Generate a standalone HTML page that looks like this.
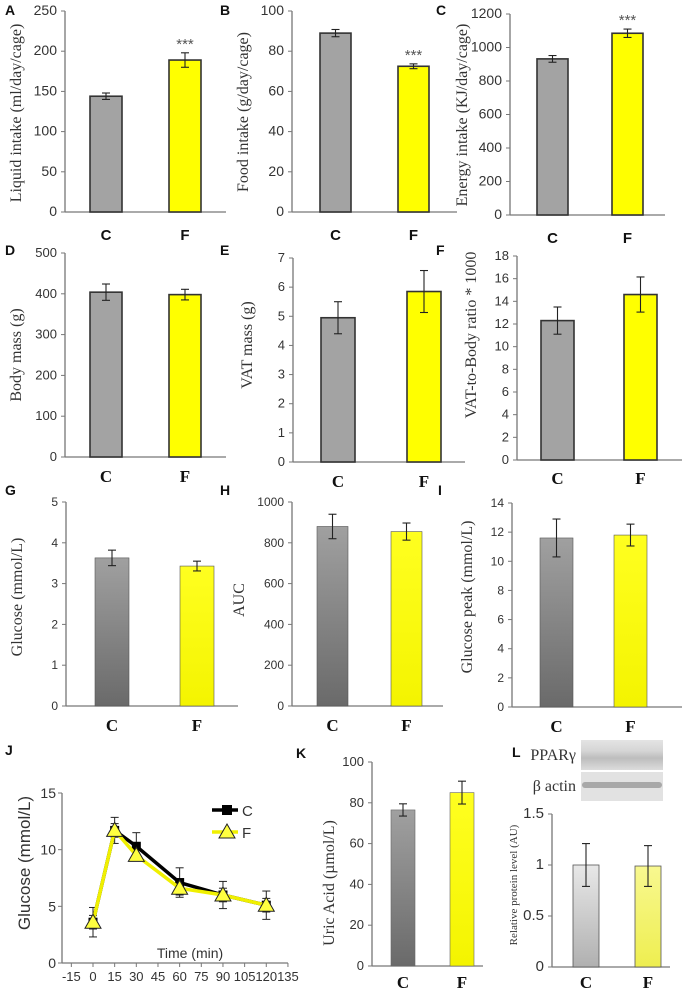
<!DOCTYPE html>
<html><head><meta charset="utf-8"><style>
html,body{margin:0;padding:0;background:#fff;}
svg{display:block;}
.tk{font-family:"Liberation Sans",sans-serif;fill:#333;}
.yt{font-family:"Liberation Serif",serif;fill:#333;}
.lt{font-family:"Liberation Sans",sans-serif;font-size:14px;font-weight:bold;fill:#111;}
.catS{font-family:"Liberation Sans",sans-serif;font-size:15px;font-weight:bold;fill:#111;}
.catR{font-family:"Liberation Serif",serif;font-size:17px;font-weight:bold;fill:#111;}
</style></head><body>
<svg id="fig" width="682" height="991" viewBox="0 0 682 991">
<defs>
<linearGradient id="gGray" x1="0" y1="1" x2="0" y2="0"><stop offset="0" stop-color="#6a6a6a"/><stop offset="1" stop-color="#a0a0a0"/></linearGradient>
<linearGradient id="gYel" x1="0" y1="1" x2="0" y2="0"><stop offset="0" stop-color="#f4f400"/><stop offset="1" stop-color="#ffff20"/></linearGradient>
<linearGradient id="gLight" x1="0" y1="1" x2="0" y2="0"><stop offset="0" stop-color="#b0b0b0"/><stop offset="1" stop-color="#e8e8e8"/></linearGradient>
<linearGradient id="gPaleY" x1="0" y1="1" x2="0" y2="0"><stop offset="0" stop-color="#eeee50"/><stop offset="1" stop-color="#f8f890"/></linearGradient>
<linearGradient id="blot" x1="0" y1="0" x2="0" y2="1"><stop offset="0" stop-color="#e4e4e4"/><stop offset="0.35" stop-color="#d6d6d6"/><stop offset="0.6" stop-color="#bdbdbd"/><stop offset="1" stop-color="#dcdcdc"/></linearGradient>
</defs>
</svg>
<script>
// ---- data ----
const categories = ["C","F"];
const liquidMeans = [144, 189];   const liquidErr = [4, 9];
const foodMeans = [89, 72.5];     const foodErr = [1.8, 1.2];
const energyMeans = [932, 1085];  const energyErr = [20, 25];
const bodyMeans = [404, 398];     const bodyErr = [20, 13];
const vatMeans = [4.95, 5.85];    const vatErr = [0.55, 0.72];
const ratioMeans = [12.3, 14.6];  const ratioErr = [1.2, 1.55];
const glucoseMeans = [3.63, 3.43];const glucoseErr = [0.19, 0.12];
const aucMeans = [880, 855];      const aucErr = [60, 42];
const peakMeans = [11.6, 11.8];   const peakErr = [1.3, 0.75];
const uricMeans = [76.5, 85];     const uricErr = [3, 5.6];
const pparMeans = [1.0, 0.99];    const pparErr = [0.21, 0.2];
const starsA = ["", "***"]; const starsB = ["", "***"]; const starsC = ["", "***"];
const ticksA = [0,50,100,150,200,250];
const ticksB = [0,20,40,60,80,100];
const ticksC = [0,200,400,600,800,1000,1200];
const ticksD = [0,100,200,300,400,500];
const ticksE = [0,1,2,3,4,5,6,7];
const ticksF = [0,2,4,6,8,10,12,14,16,18];
const ticksG = [0,1,2,3,4,5];
const ticksH = [0,200,400,600,800,1000];
const ticksI = [0,2,4,6,8,10,12,14];
const ticksK = [0,20,40,60,80,100];
const ticksL = [0,0.5,1,1.5];
const ticksLbl = ["0","0.5","1","1.5"];
// GTT
const times = [0,15,30,60,90,120];
const gttC = [3.6,11.7,10.3,7.1,6.0,5.1];
const gttCerr = [1.3,1.15,1.2,1.3,1.2,1.25];
const gttF = [3.6,11.7,9.5,6.6,6.0,5.1];
const gttFerr = [0.6,0.6,0.5,0.6,0.6,0.6];
const xTicksJ = [-15,0,15,30,45,60,75,90,105,120,135];
const yTicksJ = [0,5,10,15];

const NS="http://www.w3.org/2000/svg";
const svg=document.getElementById('fig');
function el(tag,attrs,parent,text){const e=document.createElementNS(NS,tag);for(const k in attrs)e.setAttribute(k,attrs[k]);if(text!==undefined)e.textContent=text;(parent||svg).appendChild(e);return e;}

function barPanel(p){
  const g=el('g',{});
  
  
  const y=v=>p.y0-(v-0)/(p.max)*(p.y0-p.yTop);
  const ax=el('line',{x1:p.ax,y1:p.yTop,x2:p.ax,y2:p.y0,stroke:'#777','stroke-width':1.3},g);
  
  
  const xa=el('line',{x1:p.ax,y1:p.y0,x2:p.xEnd,y2:p.y0,stroke:'#777','stroke-width':1.3},g);
  
  
  p.ticks.forEach((t,i)=>{
    el('line',{x1:p.ax-4,y1:y(t),x2:p.ax,y2:y(t),stroke:'#777','stroke-width':1},g);
    const tl=el('text',{x:p.ax-8,y:y(t)+4,'text-anchor':'end',class:'tk',style:'font-size:'+(p.tkSize||13)+'px'},g,p.tickLabels?p.tickLabels[i]:String(t));
    
    
  });
  p.means.forEach((m,i)=>{
    const bx=p.bx[i], bw=p.bw;
    const r=el('rect',{x:bx,y:y(m),width:bw,height:p.y0-y(m),fill:p.fills[i],stroke:p.stroke,'stroke-width':p.sw},g);
    
    
    const cx=bx+bw/2, e=p.err[i];
    el('line',{x1:cx,y1:y(m+e),x2:cx,y2:y(m-e),stroke:'#222','stroke-width':1.1},g);
    el('line',{x1:cx-4,y1:y(m+e),x2:cx+4,y2:y(m+e),stroke:'#222','stroke-width':1.1},g);
    el('line',{x1:cx-4,y1:y(m-e),x2:cx+4,y2:y(m-e),stroke:'#222','stroke-width':1.1},g);
    const cl=el('text',{x:cx,y:p.catY,'text-anchor':'middle',class:p.catCls},g,categories[i]);
    
    
    if(p.stars&&p.stars[i]){
      const s=el('text',{x:cx,y:y(m+e)-4,'text-anchor':'middle',class:'tk',style:'font-size:15px;fill:#555'},g,p.stars[i]);
      
      
    }
  });
  const yt=el('text',{x:0,y:0,'text-anchor':'middle',class:'yt',transform:`translate(${p.ytX},${p.ytY}) rotate(-90)`,style:'font-size:'+(p.ytSize||16)+'px'},g,p.title);
  
  
  const lt=el('text',{x:p.lx,y:p.ly,class:'lt'},g,p.letter);
  
  
}
const GY='#a3a3a3', YL='#ffff00', BS='#333';
barPanel({name:'panel-a',letter:'A',lx:5,ly:15,ax:65,xEnd:226,y0:212,yTop:11,max:250,ticks:ticksA,means:liquidMeans,err:liquidErr,bx:[90,169],bw:32,fills:[GY,YL],stroke:BS,sw:1.6,catY:240,catCls:'catS',stars:starsA,title:'Liquid intake (ml/day/cage)',ytX:21,ytY:113,tkSize:14});
barPanel({name:'panel-b',letter:'B',lx:220,ly:15,ax:292,xEnd:457,y0:212,yTop:11,max:100,ticks:ticksB,means:foodMeans,err:foodErr,bx:[320,398],bw:31,fills:[GY,YL],stroke:BS,sw:1.6,catY:240,catCls:'catS',stars:starsB,title:'Food intake (g/day/cage)',ytX:248,ytY:112,tkSize:14});
barPanel({name:'panel-c',letter:'C',lx:436,ly:15,ax:510,xEnd:665,y0:215,yTop:14,max:1200,ticks:ticksC,means:energyMeans,err:energyErr,bx:[537,612],bw:31,fills:[GY,YL],stroke:BS,sw:1.6,catY:243,catCls:'catS',stars:starsC,title:'Energy intake (KJ/day/cage)',ytX:467,ytY:115,tkSize:14});
barPanel({name:'panel-d',letter:'D',lx:5,ly:255,ax:65,xEnd:226,y0:457,yTop:253,max:500,ticks:ticksD,means:bodyMeans,err:bodyErr,bx:[90,169],bw:32,fills:[GY,YL],stroke:BS,sw:1.6,catY:482,catCls:'catR',title:'Body mass (g)',ytX:21,ytY:355});
barPanel({name:'panel-e',letter:'E',lx:220,ly:255,ax:293,xEnd:465,y0:462,yTop:258,max:7,ticks:ticksE,means:vatMeans,err:vatErr,bx:[321,407],bw:34,fills:[GY,YL],stroke:BS,sw:1.6,catY:487,catCls:'catR',title:'VAT mass (g)',ytX:252,ytY:345});
barPanel({name:'panel-f',letter:'F',lx:436,ly:255,ax:517,xEnd:682,y0:460,yTop:256,max:18,ticks:ticksF,means:ratioMeans,err:ratioErr,bx:[541,624],bw:33,fills:[GY,YL],stroke:BS,sw:1.6,catY:484,catCls:'catR',title:'VAT-to-Body ratio * 1000',ytX:476,ytY:335});
barPanel({name:'panel-g',letter:'G',lx:5,ly:495,ax:66,xEnd:238,y0:706,yTop:502,max:5,ticks:ticksG,means:glucoseMeans,err:glucoseErr,bx:[95,180],bw:34,fills:['url(#gGray)','url(#gYel)'],stroke:'#555',sw:0.6,catY:731,catCls:'catR',title:'Glucose (mmol/L)',ytX:22,ytY:597,tkSize:12});
barPanel({name:'panel-h',letter:'H',lx:220,ly:495,ax:292,xEnd:443,y0:706,yTop:502,max:1000,ticks:ticksH,means:aucMeans,err:aucErr,bx:[317,391],bw:31,fills:['url(#gGray)','url(#gYel)'],stroke:'#555',sw:0.6,catY:731,catCls:'catR',title:'AUC',ytX:244,ytY:600,tkSize:12});
barPanel({name:'panel-i',letter:'I',lx:438,ly:495,ax:512,xEnd:682,y0:707,yTop:503,max:14,ticks:ticksI,means:peakMeans,err:peakErr,bx:[540,614],bw:33,fills:['url(#gGray)','url(#gYel)'],stroke:'#555',sw:0.6,catY:732,catCls:'catR',title:'Glucose peak (mmol/L)',ytX:472,ytY:597,tkSize:12});
barPanel({name:'panel-k',letter:'K',lx:296,ly:758,ax:372,xEnd:483,y0:966,yTop:762,max:100,ticks:ticksK,means:uricMeans,err:uricErr,bx:[391,450],bw:24,fills:['url(#gGray)','url(#gYel)'],stroke:'#666',sw:0.6,catY:988,catCls:'catR',title:'Uric Acid (µmol/L)',ytX:334,ytY:883});
barPanel({name:'panel-l',letter:'L',lx:512,ly:757,ax:552,xEnd:670,y0:967,yTop:814,max:1.5,ticks:ticksL,tickLabels:ticksLbl,means:pparMeans,err:pparErr,bx:[573,635],bw:26,fills:['url(#gLight)','url(#gPaleY)'],stroke:'#555',sw:0.8,catY:988,catCls:'catR',title:'Relative protein level (AU)',ytX:517,ytY:885,ytSize:11,tkSize:15});

// ---- Western blot (L) ----
const wb=el('g',{});


el('rect',{x:581,y:740,width:82,height:30,fill:'url(#blot)'},wb);
el('rect',{x:581,y:772,width:82,height:29,fill:'#e2e2e2'},wb);
el('rect',{x:582,y:782,width:80,height:6,fill:'#a8a8a8',rx:3},wb);
const pl=el('text',{x:576,y:760,'text-anchor':'end',class:'yt',style:'font-size:16px'},wb,'PPARγ');


const bl=el('text',{x:576,y:791,'text-anchor':'end',class:'yt',style:'font-size:16px'},wb,'β actin');



// ---- GTT line chart (J) ----
const jg=el('g',{});


const jx=t=>93+t*1.444;
const jy=v=>963-v*(170/15);
const AXJ=62;
el('line',{x1:AXJ,y1:jy(15),x2:AXJ,y2:jy(0),stroke:'#777','stroke-width':1.3},jg);
el('line',{x1:AXJ,y1:jy(0),x2:jx(135),y2:jy(0),stroke:'#777','stroke-width':1.3},jg);
yTicksJ.forEach(t=>{
  el('line',{x1:AXJ-4,y1:jy(t),x2:AXJ,y2:jy(t),stroke:'#777'},jg);
  const l=el('text',{x:AXJ-6,y:jy(t)+5,'text-anchor':'end',class:'tk',style:'font-size:14px'},jg,String(t));
  
  
});
xTicksJ.forEach(t=>{
  el('line',{x1:jx(t),y1:jy(0),x2:jx(t),y2:jy(0)+4,stroke:'#777'},jg);
  const l=el('text',{x:jx(t),y:jy(0)+18,'text-anchor':'middle',class:'tk',style:'font-size:13px'},jg,String(t));
  
  
});
const xt=el('text',{x:190,y:958,'text-anchor':'middle',class:'tk',style:'font-size:14px'},jg,'Time (min)');


const jyt=el('text',{x:0,y:0,'text-anchor':'middle',class:'tk',style:'font-size:17px',transform:'translate(30,863) rotate(-90)'},jg,'Glucose (mmol/L)');


const jl=el('text',{x:5,y:755,class:'lt'},jg,'J');


function errs(vals,errsA){
  vals.forEach((v,i)=>{const cx=jx(times[i]);
    el('line',{x1:cx,y1:jy(v+errsA[i]),x2:cx,y2:jy(v-errsA[i]),stroke:'#222','stroke-width':1},jg);
    el('line',{x1:cx-4,y1:jy(v+errsA[i]),x2:cx+4,y2:jy(v+errsA[i]),stroke:'#222','stroke-width':1},jg);
    el('line',{x1:cx-4,y1:jy(v-errsA[i]),x2:cx+4,y2:jy(v-errsA[i]),stroke:'#222','stroke-width':1},jg);});
}
errs(gttC,gttCerr); errs(gttF,gttFerr);
const lc=el('polyline',{points:gttC.map((v,i)=>jx(times[i])+','+jy(v)).join(' '),fill:'none',stroke:'#000','stroke-width':3.5},jg);


gttC.forEach((v,i)=>{const m=el('rect',{x:jx(times[i])-4.5,y:jy(v)-4.5,width:9,height:9,fill:'#000'},jg);
  
  });
const lf=el('polyline',{points:gttF.map((v,i)=>jx(times[i])+','+jy(v)).join(' '),fill:'none',stroke:'#f0f000','stroke-width':3.5},jg);


function tri(cx,cy){return `${cx},${cy-8} ${cx-8},${cy+6} ${cx+8},${cy+6}`;}
gttF.forEach((v,i)=>{const m=el('polygon',{points:tri(jx(times[i]),jy(v)),fill:'#ffff40',stroke:'#222','stroke-width':1},jg);
  
  });
const lg=el('g',{},jg);


el('line',{x1:212,y1:810,x2:238,y2:810,stroke:'#000','stroke-width':3.5},lg);
el('rect',{x:222,y:805,width:10,height:10,fill:'#000'},lg);
const le1=el('text',{x:242,y:816,class:'tk',style:'font-size:15px'},lg,'C');


el('line',{x1:212,y1:832,x2:238,y2:832,stroke:'#f0f000','stroke-width':3.5},lg);
el('polygon',{points:tri(227,832),fill:'#ffff40',stroke:'#222','stroke-width':1},lg);
const le2=el('text',{x:242,y:838,class:'tk',style:'font-size:15px'},lg,'F');


</script>
</body></html>
